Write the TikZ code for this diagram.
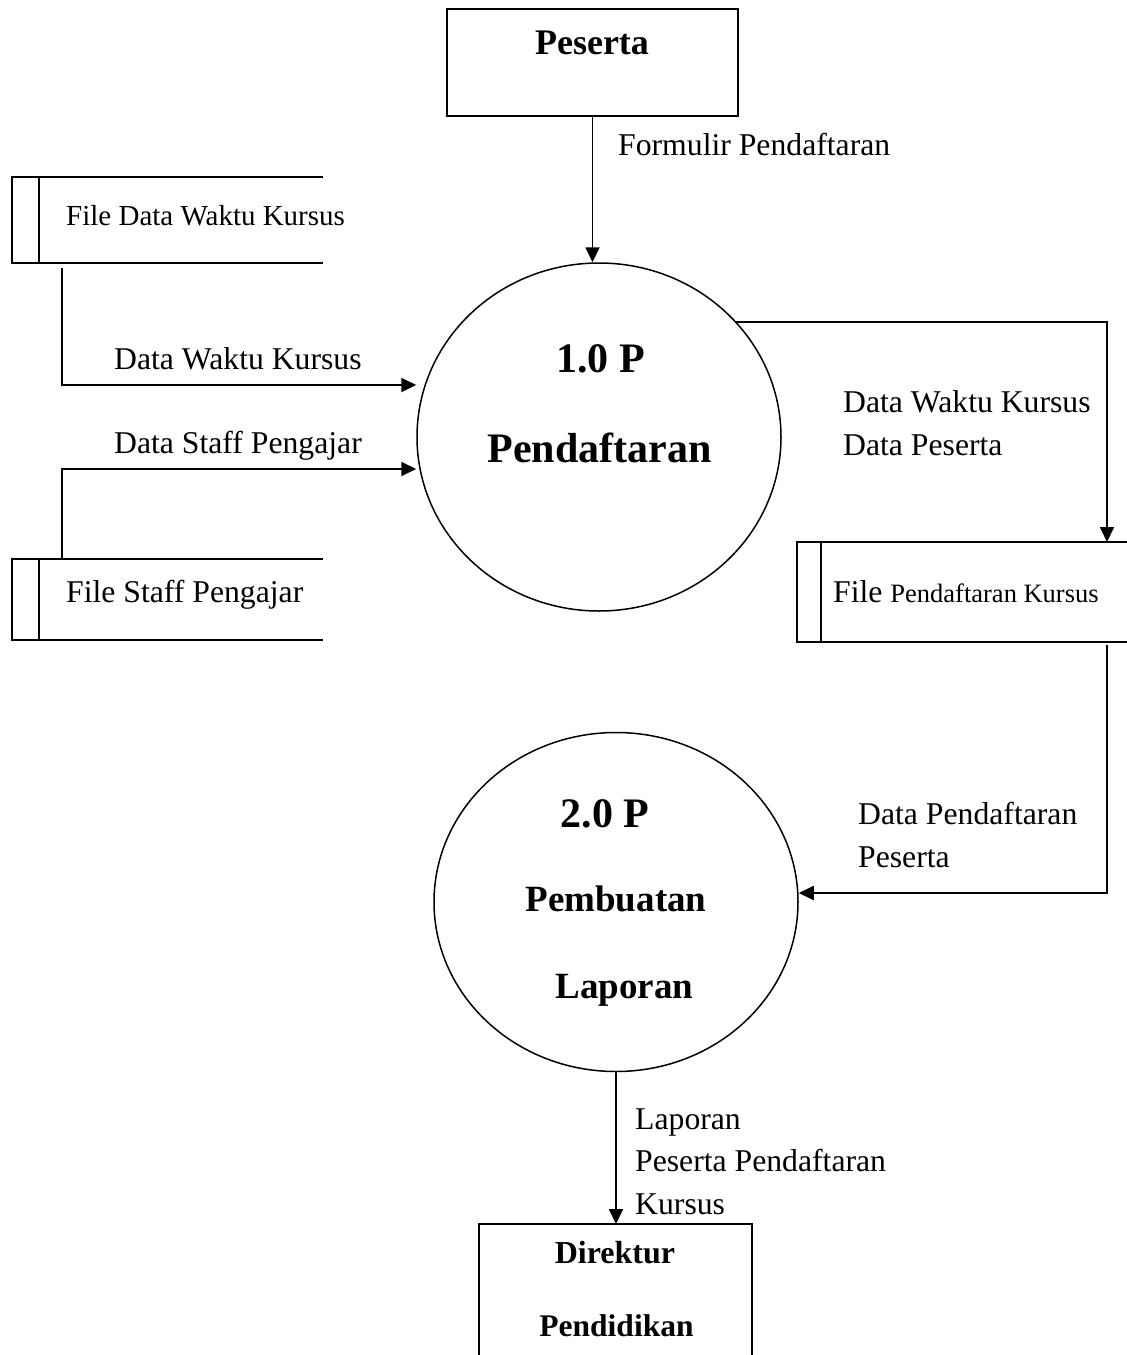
\documentclass[tikz,border=0pt]{standalone}
\usepackage{fontspec}
\setmainfont{Liberation Serif}
\usetikzlibrary{shapes.geometric,arrows.meta,positioning}

\tikzset{
  frame/.style={line width=1.8pt},
  flow/.style={line width=1.8pt, -{Triangle[length=15pt,width=14pt]}},
  proc/.style={ellipse, draw, line width=1.5pt, inner sep=0pt, minimum width=364pt},
  lbl/.style={font=\fontsize{31.7}{42.3}\selectfont, inner sep=0pt, align=left, anchor=base west},
  ptxt/.style={font=\fontsize{42}{50}\selectfont\bfseries, inner sep=0pt, anchor=base},
  etxt/.style={font=\fontsize{36}{42}\selectfont\bfseries, inner sep=0pt, anchor=base}
}

\begin{document}
\begin{tikzpicture}[x=1pt,y=-1pt]
  \useasboundingbox (0,0) rectangle (1127,1355);
  % External entities
  \node[draw, frame, minimum width=291pt, minimum height=107pt] (peserta) at (592.5,62.5) {};
  \node[etxt] (pesertatxt) at (592,54) {Peserta};
  \node[inner sep=0pt, minimum width=273pt, minimum height=140pt, anchor=north] (direktur) at (615.5,1224) {};
  \draw[frame] (direktur.south west) |- (direktur.north east) -- (direktur.south east);
  \node[etxt, font=\fontsize{32}{38}\selectfont\bfseries] (direkturtxt) at (615,1263) {Direktur};
  \node[etxt, font=\fontsize{31.5}{38}\selectfont\bfseries] (pendidikantxt) at (616.5,1336) {Pendidikan};
  % Processes
  \node[proc, minimum height=348pt] (p1) at (599,437) {};
  \node[ptxt] (p1num) at (600.5,372) {1.0 P};
  \node[ptxt] (p1name) at (599.5,462) {Pendaftaran};
  \node[proc, minimum height=339pt] (p2) at (616,902) {};
  \node[ptxt] (p2num) at (605,827) {2.0 P};
  \node[ptxt, font=\fontsize{37}{44}\selectfont\bfseries] (p2name) at (616,911) {Pembuatan};
  \node[ptxt, font=\fontsize{37}{44}\selectfont\bfseries] (p2name2) at (624.5,998) {Laporan};
  % Data stores
  \foreach \l/\t/\b/\i/\r in {12/177/263/39/323, 12/559/640/39/323, 797/542/642/821/1127} {
    \draw[frame] (\r,\t) -- (\l,\t) -- (\l,\b) -- (\r,\b) (\i,\t) -- (\i,\b);
  }
  \node[lbl, font=\fontsize{29}{34}\selectfont] (s1) at (66,225) {File Data Waktu Kursus};
  \node[lbl] (s2) at (66,602) {File Staff Pengajar};
  \node[lbl] (s3) at (833,602) {File {\fontsize{26.5}{30}\selectfont Pendaftaran Kursus}};
  % Connector ends
  \coordinate (s1tap) at (62,268);
  \coordinate (s2tap) at (62,559);
  \coordinate (s3tap) at (1107,542);
  \coordinate (s3out) at (1107,645);
  \coordinate (in1) at (0,385);
  \coordinate (in2) at (0,469);
  \coordinate (in3) at (0,893);
  % Flows
  \draw[flow] (peserta.south) -- (peserta.south |- p1.north);
  \draw[flow] (s1tap) |- (p1.west |- in1);
  \draw[flow] (s2tap) |- (p1.west |- in2);
  \draw[flow] (p1.40) -| (s3tap);
  \draw[flow] (s3out) |- (p2.east |- in3);
  \draw[flow] (p2.south) -- (p2.south |- direktur.north);
  % Flow labels
  \node[lbl] (f1) at (618,155) {Formulir Pendaftaran};
  \node[lbl] (f2) at (114,369) {Data Waktu Kursus};
  \node[lbl] (f3) at (114,453) {Data Staff Pengajar};
  \node[lbl] (f4) at (843,455) {Data Waktu Kursus\\Data Peserta};
  \node[lbl] (f5) at (858,867) {Data Pendaftaran\\Peserta};
  \node[lbl] (f6) at (635,1214) {Laporan\\Peserta Pendaftaran\\Kursus};
\end{tikzpicture}
\end{document}
